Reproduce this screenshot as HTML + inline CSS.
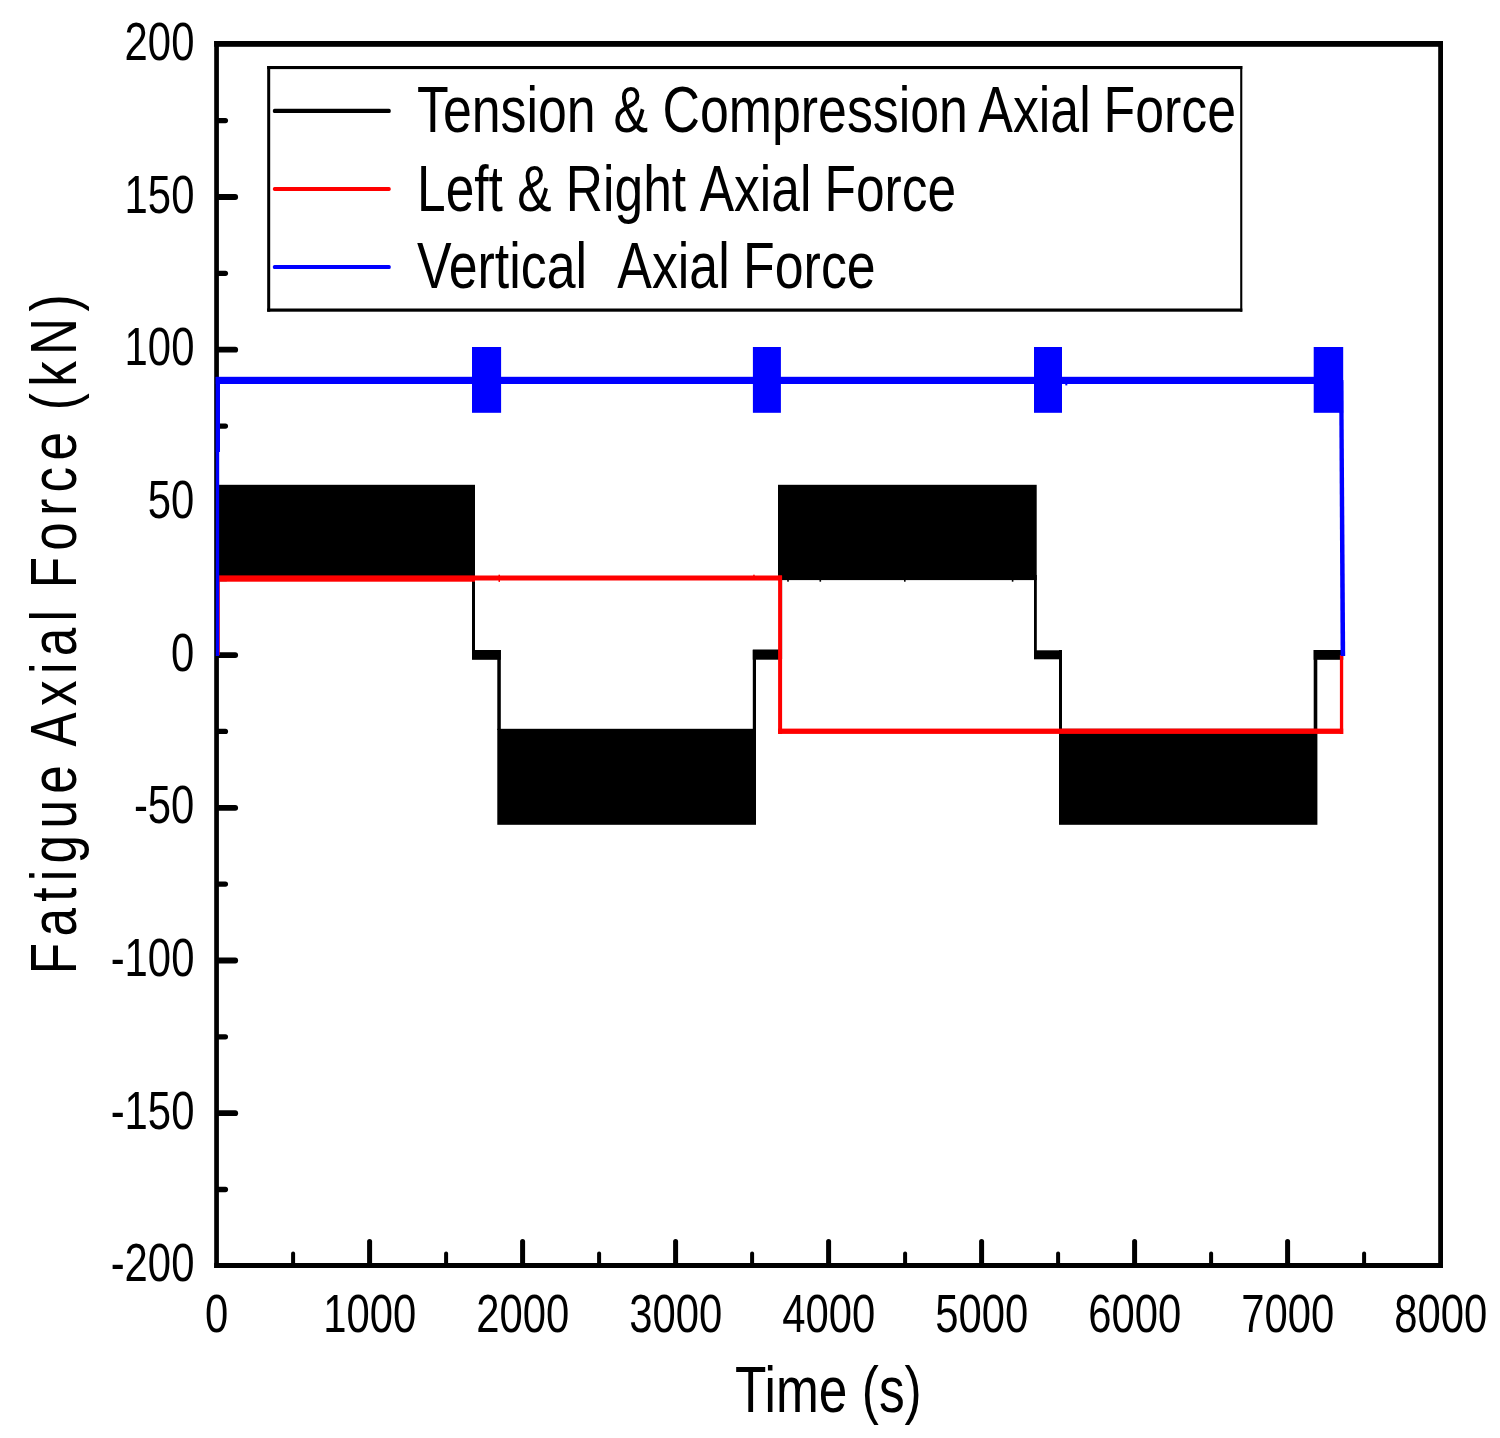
<!DOCTYPE html>
<html lang="en"><head><meta charset="utf-8"><title>Fatigue Axial Force vs Time</title>
<style>html,body{margin:0;padding:0;background:#fff}body{width:1500px;height:1438px;overflow:hidden}svg{display:block}text{font-family:"Liberation Sans",sans-serif;fill:#000}</style>
</head><body>
<svg width="1500" height="1438" viewBox="0 0 1500 1438">
<rect width="1500" height="1438" fill="#fff"/>
<g fill="#000">
<rect x="214.2" y="41" width="4.7" height="1227"/>
<rect x="1438.2" y="41" width="4.8" height="1227"/>
<rect x="214.2" y="41" width="1228.8" height="5.8"/>
<rect x="214.2" y="1263" width="1228.8" height="5"/>
</g>
<g stroke="#000" stroke-linecap="round" fill="none">
<line x1="219" y1="1189.5" x2="225.4" y2="1189.5" stroke-width="5.3"/>
<line x1="219" y1="1113.2" x2="235.2" y2="1113.2" stroke-width="5.8"/>
<line x1="219" y1="1036.8" x2="225.4" y2="1036.8" stroke-width="5.3"/>
<line x1="219" y1="960.5" x2="235.2" y2="960.5" stroke-width="5.8"/>
<line x1="219" y1="884.1" x2="225.4" y2="884.1" stroke-width="5.3"/>
<line x1="219" y1="807.8" x2="235.2" y2="807.8" stroke-width="5.8"/>
<line x1="219" y1="731.4" x2="225.4" y2="731.4" stroke-width="5.3"/>
<line x1="219" y1="655.1" x2="235.2" y2="655.1" stroke-width="5.8"/>
<line x1="219" y1="578.7" x2="225.4" y2="578.7" stroke-width="5.3"/>
<line x1="219" y1="502.4" x2="235.2" y2="502.4" stroke-width="5.8"/>
<line x1="219" y1="426.1" x2="225.4" y2="426.1" stroke-width="5.3"/>
<line x1="219" y1="349.7" x2="235.2" y2="349.7" stroke-width="5.8"/>
<line x1="219" y1="273.3" x2="225.4" y2="273.3" stroke-width="5.3"/>
<line x1="219" y1="197.0" x2="235.2" y2="197.0" stroke-width="5.8"/>
<line x1="219" y1="120.6" x2="225.4" y2="120.6" stroke-width="5.3"/>
<line x1="293.1" y1="1265" x2="293.1" y2="1253.4" stroke-width="4"/>
<line x1="369.6" y1="1265" x2="369.6" y2="1241.5" stroke-width="5"/>
<line x1="446.1" y1="1265" x2="446.1" y2="1253.4" stroke-width="4"/>
<line x1="522.6" y1="1265" x2="522.6" y2="1241.5" stroke-width="5"/>
<line x1="599.1" y1="1265" x2="599.1" y2="1253.4" stroke-width="4"/>
<line x1="675.6" y1="1265" x2="675.6" y2="1241.5" stroke-width="5"/>
<line x1="752.1" y1="1265" x2="752.1" y2="1253.4" stroke-width="4"/>
<line x1="828.6" y1="1265" x2="828.6" y2="1241.5" stroke-width="5"/>
<line x1="905.1" y1="1265" x2="905.1" y2="1253.4" stroke-width="4"/>
<line x1="981.6" y1="1265" x2="981.6" y2="1241.5" stroke-width="5"/>
<line x1="1058.1" y1="1265" x2="1058.1" y2="1253.4" stroke-width="4"/>
<line x1="1134.6" y1="1265" x2="1134.6" y2="1241.5" stroke-width="5"/>
<line x1="1211.1" y1="1265" x2="1211.1" y2="1253.4" stroke-width="4"/>
<line x1="1287.6" y1="1265" x2="1287.6" y2="1241.5" stroke-width="5"/>
<line x1="1364.1" y1="1265" x2="1364.1" y2="1253.4" stroke-width="4"/>
</g>
<g fill="#000">
<rect x="219" y="484.8" width="256" height="96"/>
<rect x="497.3" y="728.8" width="258.7" height="96"/>
<rect x="778" y="484.8" width="258.7" height="95.3"/>
<rect x="1059" y="728.8" width="258.4" height="96"/>
<rect x="472" y="575" width="3" height="84"/>
<rect x="497.3" y="650" width="3.5" height="80"/>
<rect x="752.8" y="650" width="3.2" height="80"/>
<rect x="779" y="575" width="3.1" height="84"/>
<rect x="1034" y="575" width="2.8" height="84"/>
<rect x="1059" y="650" width="3" height="80"/>
<rect x="1313.7" y="650" width="3.6" height="80"/>
<rect x="472" y="650" width="28.8" height="9.8"/>
<rect x="752.8" y="649.5" width="27" height="10.2"/>
<rect x="1034" y="650.3" width="28" height="9"/>
<rect x="1313.7" y="650" width="29.5" height="9.8"/>
<rect x="787.2" y="579.5" width="1.6" height="2.2"/>
<rect x="819.5" y="579.5" width="1.6" height="2.2"/>
<rect x="904" y="579.5" width="1.6" height="2.2"/>
<rect x="1011.8" y="579.5" width="1.6" height="2.2"/>
</g>
<g fill="#f00">
<rect x="219" y="575.4" width="256" height="6.3"/>
<rect x="475" y="575.5" width="307" height="5"/>
<rect x="778.1" y="575.5" width="4" height="158.4"/>
<rect x="778.1" y="728.6" width="565.1" height="5.3"/>
<rect x="1339.9" y="655" width="3.3" height="79"/>
<rect x="219" y="578" width="0.8" height="77"/>
<rect x="498.5" y="574.7" width="1.5" height="7.2"/>
<rect x="753.2" y="574.7" width="1.5" height="3"/>
</g>
<g fill="#00f">
<rect x="215.8" y="376.8" width="1127" height="7.2"/>
<rect x="215.8" y="377" width="4.2" height="75"/>
<rect x="215.8" y="377" width="3.4" height="279"/>
<rect x="472" y="347" width="29.1" height="65.8"/>
<rect x="752.9" y="347" width="28" height="65.8"/>
<rect x="1034" y="347" width="28" height="65.8"/>
<rect x="1313.7" y="347" width="29.5" height="65.8"/>
<rect x="1065.3" y="383" width="2" height="2.4"/>
<polygon points="1339.1,380 1343.4,380 1345.2,656 1340.6,656"/>
</g>
<g font-size="53.3">
<text transform="translate(194.4,1281.4) scale(0.785,1)" text-anchor="end">-200</text>
<text transform="translate(194.4,1128.7) scale(0.785,1)" text-anchor="end">-150</text>
<text transform="translate(194.4,976.0) scale(0.785,1)" text-anchor="end">-100</text>
<text transform="translate(194.4,823.3) scale(0.785,1)" text-anchor="end">-50</text>
<text transform="translate(194.4,670.6) scale(0.785,1)" text-anchor="end">0</text>
<text transform="translate(194.4,517.9) scale(0.785,1)" text-anchor="end">50</text>
<text transform="translate(194.4,365.2) scale(0.785,1)" text-anchor="end">100</text>
<text transform="translate(194.4,212.5) scale(0.785,1)" text-anchor="end">150</text>
<text transform="translate(194.4,59.8) scale(0.785,1)" text-anchor="end">200</text>
<text transform="translate(216.6,1331.6) scale(0.785,1)" text-anchor="middle">0</text>
<text transform="translate(369.7,1331.6) scale(0.785,1)" text-anchor="middle">1000</text>
<text transform="translate(522.7,1331.6) scale(0.785,1)" text-anchor="middle">2000</text>
<text transform="translate(675.7,1331.6) scale(0.785,1)" text-anchor="middle">3000</text>
<text transform="translate(828.7,1331.6) scale(0.785,1)" text-anchor="middle">4000</text>
<text transform="translate(981.7,1331.6) scale(0.785,1)" text-anchor="middle">5000</text>
<text transform="translate(1134.7,1331.6) scale(0.785,1)" text-anchor="middle">6000</text>
<text transform="translate(1287.7,1331.6) scale(0.785,1)" text-anchor="middle">7000</text>
<text transform="translate(1440.7,1331.6) scale(0.785,1)" text-anchor="middle">8000</text>
</g>
<text font-size="64.8" transform="translate(828.4,1412) scale(0.794,1)" text-anchor="middle">Time (s)</text>
<text font-size="64" letter-spacing="7.95" word-spacing="-6.5" transform="translate(76,631.2) rotate(-90) scale(0.8,1)" text-anchor="middle">Fatigue Axial Force (kN)</text>
<rect x="267.2" y="66" width="975.1" height="245.7" fill="#fff"/>
<g fill="#000">
<rect x="267.2" y="66" width="3" height="245.7"/>
<rect x="267.2" y="66" width="975.1" height="3.1"/>
<rect x="267.2" y="308.5" width="975.1" height="3.2"/>
<rect x="1240.2" y="66" width="2.1" height="245.7"/>
</g>
<rect x="272.9" y="108.8" width="117.8" height="4.2" rx="1.6" fill="#000"/>
<rect x="272.9" y="186.9" width="117.8" height="4.0" rx="1.6" fill="#f00"/>
<rect x="272.9" y="265.0" width="117.8" height="4.0" rx="1.6" fill="#00f"/>
<g font-size="64.8">
<text transform="translate(417,132.3) scale(0.8,1)">Tension <tspan dx="4.5">&amp;</tspan> Compression <tspan dx="-4.9">Axial</tspan> <tspan dx="-1.9">Force</tspan></text>
<text transform="translate(417,210.6) scale(0.795,1)">Left &amp; Right <tspan dx="-0.8">Axial</tspan> <tspan dx="-1.6">Force</tspan></text>
<text transform="translate(417,288.3) scale(0.8005,1)" xml:space="preserve">Vertical  <tspan dx="1.75">Axial</tspan> <tspan dx="-1.35">Force</tspan></text>
</g>
</svg>
</body></html>
